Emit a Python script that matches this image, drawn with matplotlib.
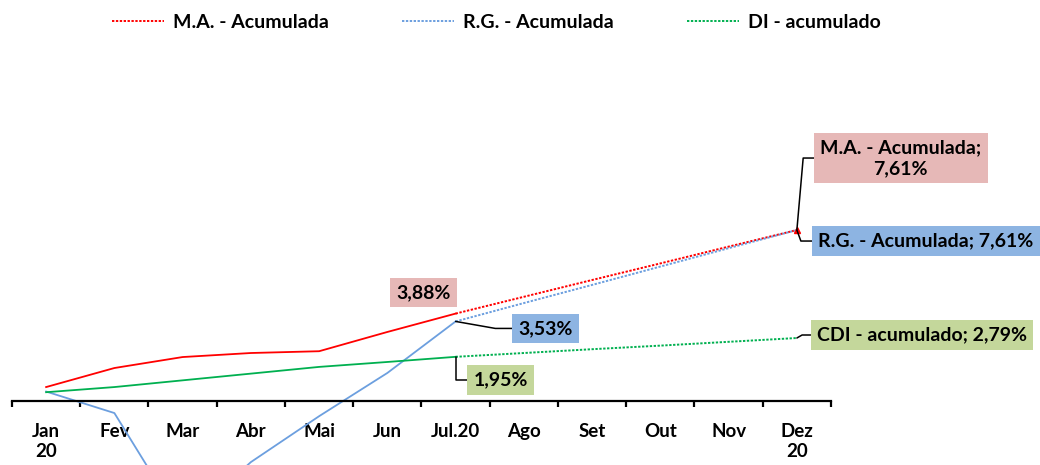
import matplotlib.pyplot as plt
import numpy as np

plt.rcParams['font.family'] = ['Lato', 'DejaVu Sans']
plt.rcParams['font.weight'] = 'bold'

meses = ["Jan\n20", "Fev", "Mar", "Abr", "Mai", "Jun", "Jul.20",
         "Ago", "Set", "Out", "Nov", "Dez\n20"]

# realizado (Jan..Jul), em %
ma_real = [0.60, 1.45, 1.94, 2.12, 2.20, 3.06, 3.88]
rg_real = [0.40, -0.56, -5.50, -2.75, -0.70, 1.23, 3.53]
cdi_real = [0.37, 0.60, 0.90, 1.20, 1.50, 1.72, 1.95]

# acumulado projetado (Jul..Dez), em %
ma_acum = [3.88, 4.63, 5.38, 6.12, 6.87, 7.61]
rg_acum = [3.53, 4.35, 5.16, 5.98, 6.80, 7.61]
cdi_acum = [1.95, 2.12, 2.29, 2.45, 2.62, 2.79]

red = "#FF0000"
blue = "#6C9FDF"
green = "#00B050"
pink_box = "#E6B8B7"
blue_box = "#8DB4E2"
green_box = "#C4D79B"

fig = plt.figure(figsize=(10.4, 4.65), dpi=100)
ax = fig.add_axes([12 / 1040, 0, 819 / 1040, 1])

x_real = np.arange(len(ma_real))
x_acum = np.arange(6, 12)

ax.plot(x_real, ma_real, color=red, lw=1.3)
ax.plot(x_real, rg_real, color=blue, lw=1.3)
ax.plot(x_real, cdi_real, color=green, lw=1.3)

dots = (0, (1.2, 0.8))
l1, = ax.plot(x_acum, ma_acum, color=red, lw=1.4, linestyle=dots)
l2, = ax.plot(x_acum, rg_acum, color=blue, lw=1.4, linestyle=dots)
l3, = ax.plot(x_acum, cdi_acum, color=green, lw=1.4, linestyle=dots)
ax.plot([11], [ma_acum[-1]], marker="^", color=red, markersize=5)

ax.set_xlim(-0.5, 11.5)
ax.set_ylim(-64.5 / 22.4, 400.5 / 22.4)

for s in ["left", "right", "top"]:
    ax.spines[s].set_visible(False)
ax.spines["bottom"].set_position(("data", 0))
ax.spines["bottom"].set_linewidth(1.6)
ax.set_yticks([])

ax.set_xticks(range(12))
ax.set_xticklabels(meses, fontsize=13.5, fontweight="bold", linespacing=1.25)
ax.tick_params(axis="x", which="major", length=0, pad=16)
ax.set_xticks(np.arange(-0.5, 12, 1), minor=True)
ax.tick_params(axis="x", which="minor", length=4, width=1.6)


def rotulo(x, y, texto, dx, dy, cor, conn=None):
    arrow = None
    if conn:
        arrow = dict(arrowstyle="-", color="black", lw=1.1,
                     connectionstyle=conn, shrinkA=0, shrinkB=0)
    ax.annotate(texto, xy=(x, y), xytext=(dx, dy), textcoords="offset pixels",
                ha="center", va="center", fontsize=14, fontweight="bold",
                linespacing=1.3, annotation_clip=False,
                bbox=dict(boxstyle="square,pad=0.32", fc=cor, ec="none"),
                arrowprops=arrow)


rotulo(6, ma_acum[0], "3,88%", -32, 21, pink_box)
rotulo(6, rg_acum[0], "3,53%", 90, -7, blue_box, "angle,angleA=0,angleB=-10,rad=0")
rotulo(6, cdi_acum[0], "1,95%", 45, -23, green_box, "angle,angleA=0,angleB=90,rad=0")
rotulo(11, ma_acum[-1], "M.A. - Acumulada;\n7,61%", 104, 72, pink_box,
       "angle,angleA=0,angleB=85,rad=0")
rotulo(11, rg_acum[-1], "R.G. - Acumulada; 7,61%", 129, -11, blue_box,
       "angle,angleA=0,angleB=-70,rad=0")
rotulo(11, cdi_acum[-1], "CDI - acumulado; 2,79%", 125, 3, green_box,
       "angle,angleA=0,angleB=30,rad=0")

fig.legend([l1, l2, l3], ["M.A. - Acumulada", "R.G. - Acumulada", "DI - acumulado"],
           loc="center", bbox_to_anchor=(0.477, 1 - 22 / 465), ncol=3,
           frameon=False, fontsize=14, handlelength=2.7, handletextpad=0.45,
           columnspacing=3.75)

fig.savefig("out.png", dpi=100)
